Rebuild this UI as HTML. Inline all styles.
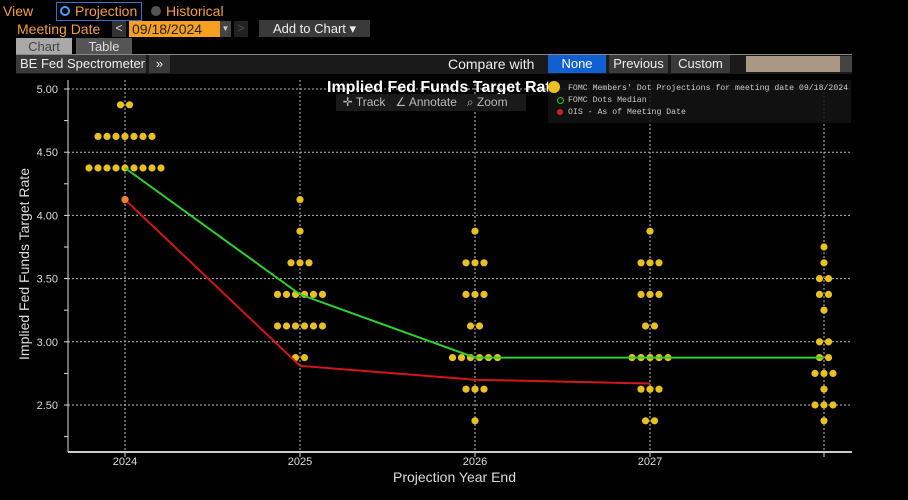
<!DOCTYPE html><html><head><style>
body{margin:0;background:#000;width:908px;height:500px;overflow:hidden;font-family:"Liberation Sans",sans-serif;position:relative}
.a{position:absolute;white-space:nowrap}
</style></head><body>
<div class="a" style="left:3px;top:3px;font-size:14px;color:#f0a040">View</div>
<div class="a" style="left:56px;top:2px;width:84px;height:17px;border:1px solid #3a6fd0"></div>
<div class="a" style="left:60px;top:6px;width:6px;height:6px;border:2px solid #4aa0ff;border-radius:50%"></div>
<div class="a" style="left:75px;top:3px;font-size:14px;color:#f0a040">Projection</div>
<div class="a" style="left:151px;top:6px;width:10px;height:10px;background:#555;border-radius:50%"></div>
<div class="a" style="left:166px;top:3px;font-size:14px;color:#f0a040">Historical</div>
<div class="a" style="left:17px;top:21px;font-size:14px;color:#f0a040">Meeting Date</div>
<div class="a" style="left:112px;top:21px;width:14px;height:16px;background:#333;color:#ddd;font-size:12px;text-align:center">&lt;</div>
<div class="a" style="left:129px;top:21px;width:88px;height:16px;background:#f7a020;color:#222;font-size:14px;line-height:16px;padding-left:3px">09/18/2024</div>
<div class="a" style="left:220px;top:21px;width:11px;height:16px;background:#444;color:#ccc;font-size:8px;text-align:center;line-height:16px">▼</div>
<div class="a" style="left:234px;top:21px;width:14px;height:16px;background:#222;color:#555;font-size:12px;text-align:center">&gt;</div>
<div class="a" style="left:259px;top:20px;width:111px;height:17px;background:#3a3a3a;color:#eee;font-size:13px;line-height:17px;text-align:center">Add to Chart ▾</div>
<div class="a" style="left:16px;top:38px;width:56px;height:17px;background:#a8a8a8;color:#444;font-size:13px;line-height:17px;text-align:center">Chart</div>
<div class="a" style="left:76px;top:38px;width:56px;height:17px;background:#555;color:#ddd;font-size:13px;line-height:17px;text-align:center">Table</div>
<div class="a" style="left:16px;top:54px;width:836px;height:1px;background:#888"></div>
<div class="a" style="left:16px;top:55px;width:836px;height:19px;background:#1a1a1a"></div>
<div class="a" style="left:16px;top:55px;width:130px;height:18px;background:#3a3a3a;color:#eee;font-size:13px;line-height:18px;padding-left:4px;box-sizing:border-box">BE Fed Spectrometer</div>
<div class="a" style="left:149px;top:55px;width:21px;height:18px;background:#3a3a3a;color:#eee;font-size:13px;line-height:18px;text-align:center">»</div>
<div class="a" style="left:448px;top:56px;font-size:14px;color:#eee">Compare with</div>
<div class="a" style="left:548px;top:55px;width:58px;height:18px;background:#1160d0;color:#fff;font-size:13px;line-height:18px;text-align:center">None</div>
<div class="a" style="left:609px;top:55px;width:59px;height:18px;background:#3a3a3a;color:#eee;font-size:13px;line-height:18px;text-align:center">Previous</div>
<div class="a" style="left:671px;top:55px;width:59px;height:18px;background:#3a3a3a;color:#eee;font-size:13px;line-height:18px;text-align:center">Custom</div>
<div class="a" style="left:746px;top:56px;width:94px;height:16px;background:#a89884"></div>
<div class="a" style="left:840px;top:56px;width:12px;height:16px;background:#444"></div>
<svg class="a" style="left:0;top:0" width="908" height="500" id="s"></svg>
<div class="a" style="left:327px;top:79px;font-size:16px;font-weight:bold;color:#fff">Implied Fed Funds Target Rate</div>
<div class="a" style="left:336px;top:94px;width:190px;height:17px;background:#1a1a1a;color:#bbb;font-size:12px;line-height:17px">&nbsp;&nbsp;✛ Track &nbsp;&nbsp;∠ Annotate &nbsp;&nbsp;⌕ Zoom</div>
<div class="a" style="left:548px;top:80px;width:303px;height:43px;background:rgba(20,20,20,.85)"></div>
<div class="a" style="left:548px;top:81px;width:12px;height:12px;background:#f0c020;border-radius:50%"></div>
<div class="a" style="left:568px;top:84px;font-size:8.2px;font-family:'Liberation Mono',monospace;color:#ccc">FOMC Members' Dot Projections for meeting date 09/18/2024</div>
<div class="a" style="left:557px;top:97px;width:5px;height:5px;border:1.5px solid #2c2;border-radius:50%"></div>
<div class="a" style="left:568px;top:96px;font-size:8.2px;font-family:'Liberation Mono',monospace;color:#ccc">FOMC Dots Median</div>
<div class="a" style="left:557px;top:109px;width:6px;height:6px;background:#c22;border-radius:50%"></div>
<div class="a" style="left:568px;top:108px;font-size:8.2px;font-family:'Liberation Mono',monospace;color:#ccc">OIS - As of Meeting Date</div>
<div class="a" style="left:24px;top:264px;transform:translate(-50%,-50%) rotate(-90deg);transform-origin:center;font-size:14px;color:#ddd">Implied Fed Funds Target Rate</div>
<div class="a" style="left:393px;top:469px;font-size:14px;color:#ddd">Projection Year End</div>
<script>
var s=document.getElementById('s'),h='';
function Y(v){return 89+(5-v)*126.4}
var X=[125,300,475,650,824];
for(var v=2.5;v<=5;v+=0.5){h+='<line x1="68" x2="852" y1="'+Y(v)+'" y2="'+Y(v)+'" stroke="#bbb" stroke-dasharray="2,2"/>';
h+='<text x="58" y="'+(Y(v)+4)+'" fill="#ddd" font-size="11" text-anchor="end" font-family="Liberation Sans">'+v.toFixed(2)+'</text>';}
for(var v=2.25;v<=5;v+=0.25)h+='<line x1="64" x2="68" y1="'+Y(v)+'" y2="'+Y(v)+'" stroke="#ddd"/>';
var yrs=['2024','2025','2026','2027',''];
X.forEach(function(x,i){h+='<line x1="'+x+'" x2="'+x+'" y1="80" y2="452" stroke="#bbb" stroke-dasharray="2,2"/><line x1="'+x+'" x2="'+x+'" y1="452" y2="457" stroke="#ddd"/>';
if(yrs[i])h+='<text x="'+x+'" y="465" fill="#ddd" font-size="11" text-anchor="middle" font-family="Liberation Sans">'+yrs[i]+'</text>';});
h+='<line x1="68" x2="68" y1="80" y2="452" stroke="#ddd"/><line x1="68" x2="852" y1="452" y2="452" stroke="#ccc" stroke-width="2"/>';
var D=[[[4.875,2],[4.625,7],[4.375,9],[4.125,1]],
[[4.125,1],[3.875,1],[3.625,3],[3.375,6],[3.125,6],[2.875,2]],
[[3.875,1],[3.625,3],[3.375,3],[3.125,2],[2.875,6],[2.625,3],[2.375,1]],
[[3.875,1],[3.625,3],[3.375,3],[3.125,2],[2.875,5],[2.625,3],[2.375,2]],
[[3.75,1],[3.625,1],[3.5,2],[3.375,2],[3.25,1],[3,2],[2.875,2],[2.75,3],[2.625,1],[2.5,3],[2.375,1]]];
D.forEach(function(c,i){c.forEach(function(p){for(var k=0;k<p[1];k++){var x=X[i]+(k-(p[1]-1)/2)*9;h+='<circle cx="'+x+'" cy="'+Y(p[0])+'" r="3.6" fill="#e8c020"/>';}});});
var g=[4.375,3.375,2.875,2.875,2.875],r=[4.125,2.81,2.70,2.67];
h+='<polyline fill="none" stroke="#30d030" stroke-width="2" points="'+g.map(function(v,i){return X[i]+','+Y(v)}).join(' ')+'"/>';
h+='<polyline fill="none" stroke="#d01818" stroke-width="2" points="'+r.map(function(v,i){return X[i]+','+Y(v)}).join(' ')+'"/>';
h+='<circle cx="125" cy="'+Y(4.125)+'" r="3.6" fill="#f08030"/>';
s.innerHTML=h;
</script>
</body></html>
